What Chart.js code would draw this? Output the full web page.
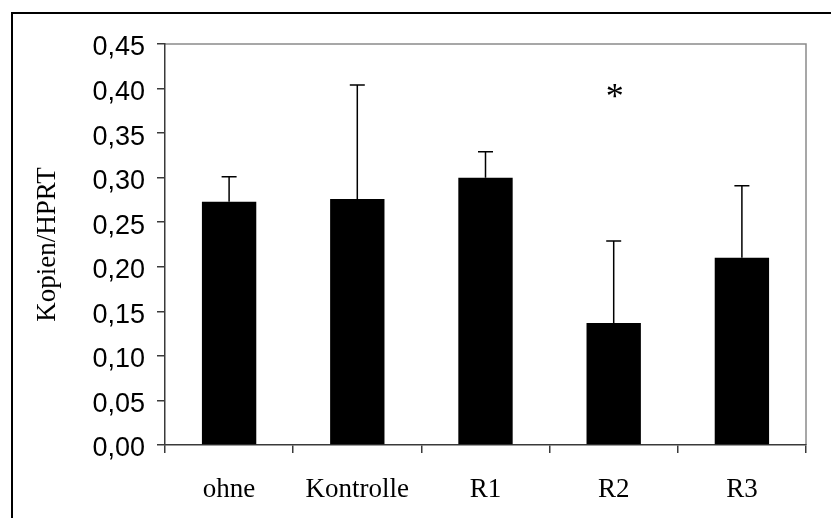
<!DOCTYPE html>
<html>
<head>
<meta charset="utf-8">
<script src="https://cdn.jsdelivr.net/npm/chart.js@4/dist/chart.umd.min.js"></script>
<style>
  html, body { margin: 0; padding: 0; background: #fff; }
  canvas { display: block; }
</style>
</head>
<body>
<canvas id="chart" width="831" height="518"></canvas>
<script>
// Gruppen und Messwerte (Mittelwert + Standardabweichung)
const categories = ['ohne', 'Kontrolle', 'R1', 'R2', 'R3'];
const means = [0.273, 0.276, 0.300, 0.137, 0.210];
const errors = [0.028, 0.128, 0.029, 0.092, 0.081];
const significance = ['', '', '', '*', ''];
const yTicks = [0, 0.05, 0.10, 0.15, 0.20, 0.25, 0.30, 0.35, 0.40, 0.45];
const yTitle = 'Kopien/HPRT';

const fmt = v => v.toFixed(2).replace('.', ',');

// Rahmen um die gesamte Grafik sowie oberer/rechter Rand der Zeichenfläche
const framePlugin = {
  id: 'frame',
  beforeDraw(chart) {
    const ctx = chart.ctx;
    const a = chart.chartArea;
    ctx.save();
    ctx.fillStyle = '#fff';
    ctx.fillRect(0, 0, chart.width, chart.height);
    ctx.strokeStyle = '#000';
    ctx.lineWidth = 2;
    ctx.strokeRect(12, 13, chart.width + 20, chart.height + 20);
    ctx.strokeStyle = '#8a8a8a';
    ctx.lineWidth = 1.5;
    ctx.beginPath();
    ctx.moveTo(a.left, a.top);
    ctx.lineTo(a.right, a.top);
    ctx.lineTo(a.right, a.bottom);
    ctx.stroke();
    ctx.restore();
  }
};

// Fehlerbalken nach oben und Signifikanzmarkierung
const errorBarPlugin = {
  id: 'errorBars',
  afterDatasetsDraw(chart) {
    const ctx = chart.ctx;
    const y = chart.scales.y;
    const meta = chart.getDatasetMeta(0);
    ctx.save();
    ctx.strokeStyle = '#000';
    ctx.lineWidth = 1.5;
    meta.data.forEach((bar, i) => {
      const x = bar.x;
      const yBase = y.getPixelForValue(means[i]);
      const yTop = y.getPixelForValue(means[i] + errors[i]);
      ctx.beginPath();
      ctx.moveTo(x, yBase);
      ctx.lineTo(x, yTop);
      ctx.moveTo(x - 7.5, yTop);
      ctx.lineTo(x + 7.5, yTop);
      ctx.stroke();
      if (significance[i]) {
        ctx.fillStyle = '#000';
        ctx.font = '36px "Liberation Serif", "Times New Roman", serif';
        ctx.textAlign = 'center';
        ctx.textBaseline = 'middle';
        ctx.fillText(significance[i], x + 1, y.getPixelForValue(0.395) + 6);
      }
    });
    ctx.restore();
  }
};

new Chart(document.getElementById('chart'), {
  type: 'bar',
  data: {
    labels: categories,
    datasets: [{
      data: means,
      backgroundColor: '#000',
      borderWidth: 0,
      categoryPercentage: 1.0,
      barPercentage: 0.424
    }]
  },
  options: {
    responsive: false,
    animation: false,
    devicePixelRatio: 1,
    layout: { padding: { top: 44, right: 25, left: 0, bottom: 0 } },
    plugins: {
      legend: { display: false },
      tooltip: { enabled: false }
    },
    scales: {
      x: {
        offset: true,
        afterFit(scale) { scale.height = 73; },
        grid: {
          offset: true,
          drawOnChartArea: false,
          drawTicks: true,
          tickLength: 8,
          color: '#3a3a3a',
          lineWidth: 1.5
        },
        border: { color: '#3a3a3a', width: 1.5 },
        ticks: {
          color: '#000',
          padding: 21,
          maxRotation: 0,
          font: { family: '"Liberation Serif", "Times New Roman", serif', size: 27 }
        }
      },
      y: {
        min: 0,
        max: 0.45,
        afterFit(scale) { scale.width = 165; },
        afterBuildTicks(scale) { scale.ticks = yTicks.map(v => ({ value: v })); },
        grid: {
          drawOnChartArea: false,
          drawTicks: true,
          tickLength: 8,
          color: '#3a3a3a',
          lineWidth: 1.5
        },
        border: { color: '#3a3a3a', width: 1.5 },
        ticks: {
          color: '#000',
          padding: 12,
          labelOffset: 4,
          callback: v => fmt(v),
          font: { family: '"Liberation Sans", Arial, sans-serif', size: 27 }
        },
        title: {
          display: true,
          text: yTitle,
          color: '#000',
          padding: { top: 32, bottom: 0 },
          font: { family: '"Liberation Serif", "Times New Roman", serif', size: 27 }
        }
      }
    }
  },
  plugins: [framePlugin, errorBarPlugin]
});
</script>
</body>
</html>
